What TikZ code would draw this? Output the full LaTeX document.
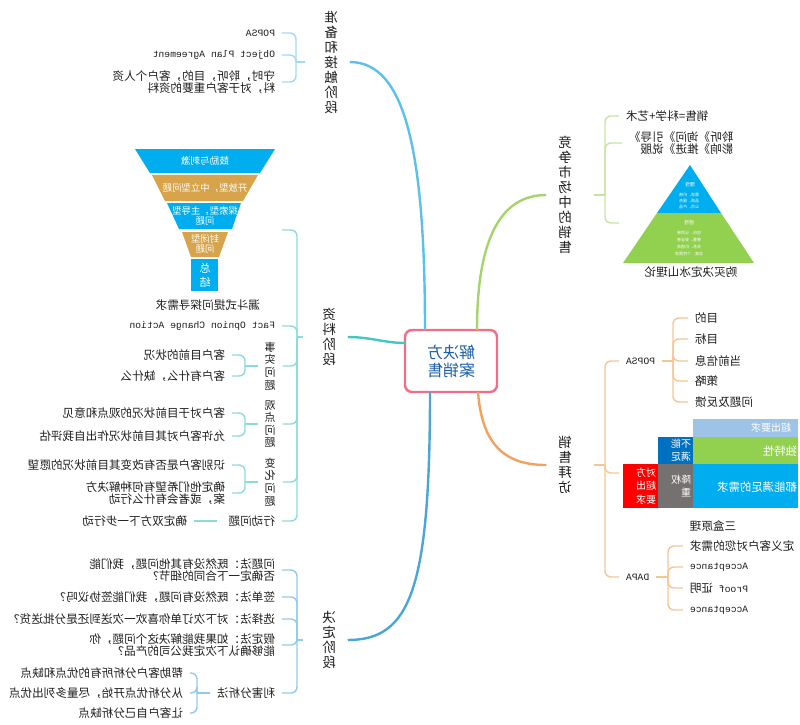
\documentclass[tikz,border=0pt]{standalone}
\usepackage{fontspec}
\setmainfont{Noto Sans CJK SC}
\newfontfamily\mono{Liberation Mono}
\usetikzlibrary{calc}
\definecolor{txtc}{HTML}{1E1E1E}
\definecolor{rootc}{HTML}{F06E87}
\definecolor{roottxt}{HTML}{1C5FA6}
\definecolor{bA}{HTML}{5BC0EE}\definecolor{bAl}{HTML}{A3D9F4}
\definecolor{bB}{HTML}{45C6C3}\definecolor{bBl}{HTML}{8ADBDA}
\definecolor{bC}{HTML}{4AA6D8}\definecolor{bCl}{HTML}{93C9E8}
\definecolor{bD}{HTML}{A6D46C}\definecolor{bDl}{HTML}{C7E3A4}
\definecolor{bE}{HTML}{F2A25F}\definecolor{bEl}{HTML}{F6C596}
\definecolor{fblue}{HTML}{00AEEF}
\definecolor{fgold}{HTML}{D7A34B}
\definecolor{pgreen}{HTML}{92D050}
\definecolor{tlblue}{HTML}{9DC3E6}
\definecolor{tdblue}{HTML}{0070C0}
\definecolor{tred}{HTML}{FF0000}
\definecolor{tgray}{HTML}{767171}
\begin{document}
\begin{tikzpicture}[x={(-1pt,0pt)}, y={(0pt,-1pt)}, xscale=-1,
  every node/.append style={transform shape, inner sep=0pt, outer sep=0pt},
  txt/.style={font=\fontsize{11.6}{12.3}\selectfont, text=txtc, align=left, inner xsep=7pt},
  mtxt/.style={font=\mono\fontsize{9.7}{12}\selectfont, text=txtc, inner xsep=7pt},
  vbig/.style={font=\fontsize{13.5}{15}\selectfont, text=txtc, align=center, inner xsep=12pt},
  vsm/.style={font=\fontsize{11}{12.6}\selectfont, text=txtc, align=center, inner xsep=7pt},
  endR/.style={anchor=west},
  endL/.style={anchor=east},
  wtxt/.style={text=white, font=\fontsize{10}{13.5}\selectfont, align=left},
  mA/.style={draw=bA, line width=2.4pt},
  mB/.style={draw=bB, line width=2.4pt},
  mC/.style={draw=bC, line width=2.4pt},
  mD/.style={draw=bD, line width=2.4pt},
  mE/.style={draw=bE, line width=2.4pt},
  subA/.style={draw=bAl, line width=1.4pt, rounded corners=6pt},
  subB/.style={draw=bBl, line width=1.4pt, rounded corners=6pt},
  subC/.style={draw=bCl, line width=1.4pt, rounded corners=6pt},
  subD/.style={draw=bDl, line width=1.4pt, rounded corners=6pt},
  subE/.style={draw=bEl, line width=1.4pt, rounded corners=6pt}
]
\useasboundingbox (0,0) rectangle (800,724);

% ---------- root
\node[draw=rootc, line width=2.4pt, rounded corners=7pt, fill=white,
      minimum width=92pt, minimum height=62pt, align=center,
      font=\fontsize{16}{18}\selectfont, text=roottxt] (root) at (451,361) {解决方\\案销售};

% ---------- A: 准备和接触阶段
\node[vbig] (nA) at (331,62) {准\\备\\和\\接\\触\\阶\\段};
\draw[mA] ($(root.north)+(-26,0)$) .. controls (425,150) and (405,62) .. (nA.west);
\coordinate (jA) at (296,62);
\draw[subA] ($(nA.east)+(-7,0)$) -- (jA);
\node[mtxt,endR] (a1) at (282,33) {POPSA};
\node[mtxt,endR] (a2) at (282,55) {Object Plan Agreement};
\node[txt,endR] (a3) at (282,82) {守时，聆听，目的，客户个人资\\料，对于客户重要的资料};
\draw[subA] (jA) |- (a1.west);
\draw[subA] (jA) |- (a2.west);
\draw[subA] (jA) |- (a3.west);

% ---------- B: 资料阶段
\node[vbig] (nB) at (329,337) {资\\料\\阶\\段};
\draw[mB] ($(root.east)+(0,-18)$) .. controls (385,343) and (370,337) .. (nB.west);
\coordinate (jB) at (297,337);
\draw[subB] ($(nB.east)+(-7,0)$) -- (jB);
% funnel
\fill[fblue] (135,149) -- (275,149) -- (260,173) -- (150,173) -- cycle;
\fill[fgold] (152,175) -- (258,175) -- (243,201) -- (165,201) -- cycle;
\fill[fblue] (167,203) -- (241,203) -- (232,229) -- (179,229) -- cycle;
\fill[fgold] (182,232) -- (228,232) -- (219,257) -- (191,257) -- cycle;
\fill[fblue] (191,259) rectangle (218,291);
\node[wtxt, font=\fontsize{9.6}{10.5}\selectfont, align=center] (f1) at (205,161) {鼓励与刺激};
\node[wtxt, font=\fontsize{9.4}{10.5}\selectfont, align=center] (f2) at (205,188) {开放型，中立型问题};
\node[wtxt, font=\fontsize{9.4}{10.5}\selectfont, align=center] (f3) at (205,216) {探索型，主导型\\问题};
\node[wtxt, font=\fontsize{9.4}{10.5}\selectfont, align=center] (f4) at (205,244) {封闭型\\问题};
\node[wtxt, font=\fontsize{11}{14}\selectfont, align=center] (f5) at (205,275) {总\\结};
\node[txt, inner xsep=0pt] (b0) at (208,305) {漏斗式提问探寻需求};
\coordinate (b0t) at (282,230);
\node[mtxt,endR] (b1) at (282,326) {Fact Opnion Change Action};
\node[vsm] (b2) at (270,366) {事\\实\\问\\题};
\node[vsm] (b3) at (270,424) {观\\点\\问\\题};
\node[vsm] (b4) at (270,482) {变\\化\\问\\题};
\node[txt,endR] (b5) at (282,521) {行动问题};
\draw[subB] (jB) |- (b0t);
\draw[subB] (jB) |- (b1.west);
\draw[subB] (jB) |- (b2.west);
\draw[subB] (jB) |- (b3.west);
\draw[subB] (jB) |- (b4.west);
\draw[subB] (jB) |- (b5.west);
% B sub-sub
\coordinate (jB2) at (245,366);
\draw[subB] (b2.east) -- (jB2);
\node[txt,endR] (b21) at (232,355) {客户目前的状况};
\node[txt,endR] (b22) at (232,376) {客户有什么，缺什么};
\draw[subB] (jB2) |- (b21.west);
\draw[subB] (jB2) |- (b22.west);
\coordinate (jB3) at (245,424);
\draw[subB] (b3.east) -- (jB3);
\node[txt,endR] (b31) at (232,413) {客户对于目前状况的观点和意见};
\node[txt,endR] (b32) at (232,436) {允许客户对其目前状况作出自我评估};
\draw[subB] (jB3) |- (b31.west);
\draw[subB] (jB3) |- (b32.west);
\coordinate (jB4) at (245,482);
\draw[subB] (b4.east) -- (jB4);
\node[txt,endR] (b41) at (232,465) {识别客户是否有改变其目前状况的愿望};
\node[txt,endR] (b42) at (232,493) {确定他们希望有何种解决方\\案，或者会有什么行动};
\draw[subB] (jB4) |- (b41.west);
\draw[subB] (jB4) |- (b42.west);
\node[txt,endR] (b51) at (194,521) {确定双方下一步行动};
\draw[subB] ($(b5.east)+(-5,0)$) -- (b51.west);

% ---------- C: 决定阶段
\node[vbig] (nC) at (329,640) {决\\定\\阶\\段};
\draw[mC] ($(root.south)+(-21,0)$) .. controls (430,590) and (410,640) .. (nC.west);
\coordinate (jC) at (297,640);
\draw[subC] ($(nC.east)+(-7,0)$) -- (jC);
\node[txt,endR] (c1) at (282,570) {问题法：既然没有其他问题，我们能\\否确定一下合同的细节？};
\node[txt,endR] (c2) at (282,597) {签单法：既然没有问题，我们能签协议吗？};
\node[txt,endR] (c3) at (282,619) {选择法：对下次订单你喜欢一次送到还是分批送货？};
\node[txt,endR] (c4) at (282,645) {假定法：如果我能解决这个问题，你\\能够确认下次定我公司的产品？};
\node[txt,endR] (c5) at (282,693) {利害分析法};
\draw[subC] (jC) |- (c1.west);
\draw[subC] (jC) |- (c2.west);
\draw[subC] (jC) |- (c3.west);
\draw[subC] (jC) |- (c4.west);
\draw[subC] (jC) |- (c5.west);
\coordinate (jC5) at (197,693);
\draw[subC] (c5.east) -- (jC5);
\node[txt,endR] (c51) at (190,673) {帮助客户分析所有的优点和缺点};
\node[txt,endR] (c52) at (190,693) {从分析优点开始，尽量多列出优点};
\node[txt,endR] (c53) at (190,713) {让客户自己分析缺点};
\draw[subC] (jC5) |- (c51.west);
\draw[subC] (jC5) |- (c52.west);
\draw[subC] (jC5) |- (c53.west);

% ---------- D: 竞争市场中的销售
\node[vbig] (nD) at (565,195) {竞\\争\\市\\场\\中\\的\\销\\售};
\draw[mD] ($(root.north)+(26,0)$) .. controls (477,240) and (500,195) .. (nD.east);
\coordinate (jD) at (605,195);
\draw[subD] ($(nD.west)+(10,0)$) -- (jD);
\node[txt,endL] (d1) at (619,116) {销售=科学+艺术};
\node[txt,endL] (d2) at (622,143) {聆听》询问》引导》\\影响》推进》说服};
\coordinate (d3t) at (619,223);
\draw[subD] (jD) |- (d1.east);
\draw[subD] (jD) |- (d2.east);
\draw[subD] (jD) |- (d3t);
% pyramid
\fill[fblue] (690,165) -- (721,213) -- (657,213) -- cycle;
\fill[pgreen] (657,213) -- (721,213) -- (754,263) -- (623,263) -- cycle;
\node[text=white, font=\fontsize{5}{6}\selectfont] (py1) at (690,185) {理性};
\node[text=white, font=\fontsize{4}{6}\selectfont, align=center] (py2) at (689,201) {需求、价格\\品质、服务\\公司、产品};
\node[text=white, font=\fontsize{5}{6}\selectfont] (py3) at (689,223) {感性};
\node[text=white, font=\fontsize{4}{7}\selectfont, align=center] (py4) at (689,243) {信任、认同感\\尊重、安全感\\关系、价值观\\态度、个性需求};
\node[txt, inner xsep=0pt] (d3) at (691,272) {购买决定冰山理论};

% ---------- E: 销售拜访
\node[vbig] (nE) at (565,465) {销\\售\\拜\\访};
\draw[mE] ($(root.south)+(27,0)$) .. controls (482,445) and (505,465) .. (nE.east);
\coordinate (jE) at (605,465);
\draw[subE] ($(nE.west)+(10,0)$) -- (jE);
\node[mtxt,endL] (e1) at (619,361) {POPSA};
\coordinate (e2t) at (619,473);
\node[mtxt,endL] (e3) at (619,577) {DAPA};
\draw[subE] (jE) |- (e1.east);
\draw[subE] (jE) |- (e2t);
\draw[subE] (jE) |- (e3.east);
% POPSA children
\coordinate (jE1) at (673,361);
\draw[subE] (e1.west) -- (jE1);
\node[txt,endL] (e11) at (688,318) {目的};
\node[txt,endL] (e12) at (688,339) {目标};
\node[txt,endL] (e13) at (688,361) {当前信息};
\node[txt,endL] (e14) at (688,381) {策略};
\node[txt,endL] (e15) at (688,402) {问题及反馈};
\foreach \k in {e11,e12,e13,e14,e15} \draw[subE] (jE1) |- (\k.east);
% three boxes
\fill[tlblue] (693,419) rectangle (798,437);
\fill[pgreen] (693,437) rectangle (798,464);
\fill[tdblue] (658,437) rectangle (693,464);
\fill[tred] (623,464) rectangle (658,508);
\fill[tgray] (658,464) rectangle (693,508);
\fill[fblue] (693,464) rectangle (798,508);
\node[wtxt, endR] (t1) at (791,428) {超出要求};
\node[wtxt, endR, font=\fontsize{11.4}{13}\selectfont] (t2) at (797,451) {独特性};
\node[wtxt, endR, font=\fontsize{11.4}{13}\selectfont] (t3) at (797,487) {都能满足的需求};
\node[wtxt, endR] (t4) at (691,450) {不能\\满足};
\node[wtxt, endR] (t5) at (691,486) {降权\\重};
\node[wtxt, endR] (t6) at (656,486) {对方\\超出\\要求};
\node[txt, inner xsep=0pt] (e2) at (713,526) {三盒原理};
% DAPA children
\coordinate (jE3) at (668,577);
\draw[subE] (e3.west) -- (jE3);
\node[txt,endL] (e31) at (683,546) {定义客户对您的需求};
\node[mtxt,endL] (e32) at (683,567) {Acceptance};
\node[mtxt,endL] (e33) at (683,588) {Proof {\fontspec{Noto Sans CJK SC}\fontsize{11.6}{12}\selectfont 证明}};
\node[mtxt,endL] (e34) at (683,610) {Acceptance};
\foreach \k in {e31,e32,e33,e34} \draw[subE] (jE3) |- (\k.east);
\end{tikzpicture}
\end{document}
